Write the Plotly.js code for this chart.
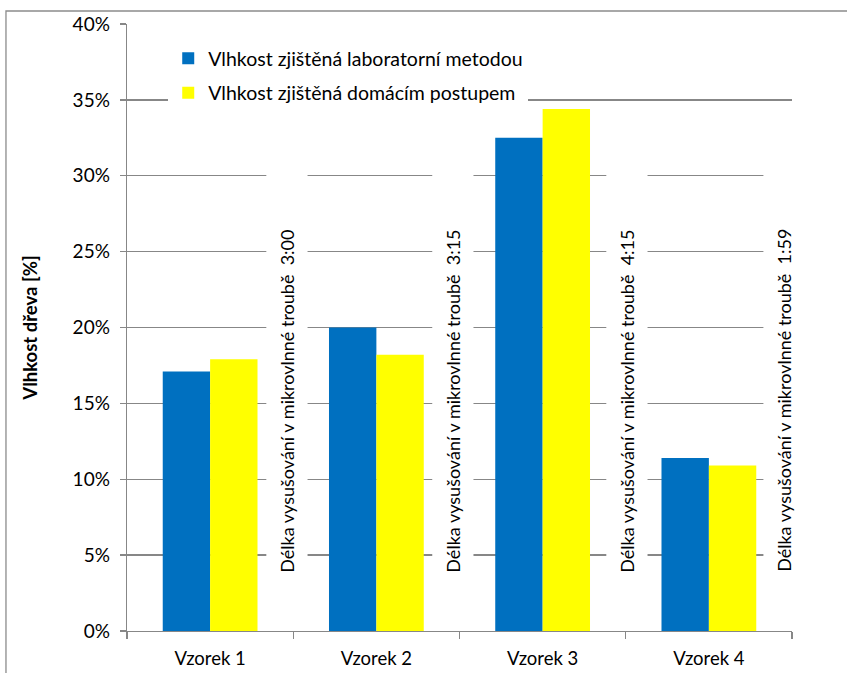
<!DOCTYPE html>
<html>
<head>
<meta charset="utf-8">
<script src="https://cdn.plot.ly/plotly-3.0.1.min.js"></script>
<style>html,body{margin:0;padding:0;background:#fff;}#chart{width:847px;height:673px;}</style>
</head>
<body>
<div id="chart"></div>
<script>
const categories = ["Vzorek 1", "Vzorek 2", "Vzorek 3", "Vzorek 4"];
const labMethod = [0.171, 0.200, 0.325, 0.114];
const homeMethod = [0.179, 0.182, 0.344, 0.109];
const seriesNames = ["Vlhkost zjištěná laboratorní metodou", "Vlhkost zjištěná domácím postupem"];
const dryingTimes = ["3:00", "3:15", "4:15", "1:59"];
const yTickVals = [0, 0.05, 0.10, 0.15, 0.20, 0.25, 0.30, 0.35, 0.40];
const yTickText = ["0%", "5%", "10%", "15%", "20%", "25%", "30%", "35%", "40%"];
const yTitle = "Vlhkost dřeva [%]";

const FONT = "Lato, 'Open Sans', sans-serif";
const GRID = "#878787";
const textOffsets = [0.462, 0.46, 0.507, 0.452];

const traces = [
  {type: "bar", x: categories, y: labMethod, name: seriesNames[0], marker: {color: "#0070C0"}, legendgroup: "a", hoverinfo: "none"},
  {type: "bar", x: categories, y: homeMethod, name: seriesNames[1], marker: {color: "#FFFF00"}, legendgroup: "b", hoverinfo: "none"}
];

const shapes = [];
const annotations = [];
dryingTimes.forEach((t, i) => {
  const cx = i + textOffsets[i];
  shapes.push({type: "rect", xref: "x", yref: "y", x0: cx - 0.124, x1: cx + 0.124, y0: 0.025, y1: 0.315,
    fillcolor: "#ffffff", line: {width: 0}, layer: "above"});
  annotations.push({xref: "x", yref: "y", x: cx, y: 0.038, yanchor: "bottom", xanchor: "center",
    text: "Délka vysušování v mikrovlnné troubě\u00a0 " + t, textangle: -90, showarrow: false,
    font: {family: FONT, size: 18, color: "#000"}, borderpad: 0});
});
// outer chart border
shapes.push({type: "rect", xref: "paper", yref: "paper", x0: -0.182, x1: 1.3, y0: -0.3, y1: 1.0214,
  line: {color: "#8c8c8c", width: 1.3}, fillcolor: "rgba(0,0,0,0)", layer: "below"});

const layout = {
  width: 847, height: 673,
  margin: {l: 127, r: 55, t: 24, b: 42},
  paper_bgcolor: "#fff", plot_bgcolor: "#fff",
  barmode: "group", bargap: 0.43, bargroupgap: 0,
  font: {family: FONT, size: 18, color: "#000"},
  xaxis: {type: "category", range: [-0.5, 3.5], autorange: false, tickson: "boundaries", ticks: "outside", ticklen: 7, tickcolor: GRID, tickwidth: 1.3,
    showline: true, linecolor: GRID, linewidth: 1.3, showgrid: false, zeroline: false,
    tickfont: {family: FONT, size: 18.5}, ticklabelstandoff: 10, fixedrange: true},
  yaxis: {range: [0, 0.40], autorange: false, tickvals: yTickVals, ticktext: yTickText, ticks: "outside", ticklen: 6, tickcolor: GRID, tickwidth: 1.3,
    showline: true, linecolor: GRID, linewidth: 1.3, showgrid: true, gridcolor: GRID, gridwidth: 1.3, zeroline: false,
    tickfont: {family: FONT, size: 19}, ticklabelstandoff: 6,
    title: {text: "<b>" + yTitle + "</b>", font: {family: FONT, size: 18.5}, standoff: 30}, fixedrange: true},
  showlegend: true,
  legend: {x: 0.062, y: 0.975, xanchor: "left", yanchor: "top", bgcolor: "#ffffff", borderwidth: 0,
    font: {family: FONT, size: 19.5}, traceorder: "grouped", tracegroupgap: 6},
  shapes: shapes,
  annotations: annotations
};

Plotly.newPlot("chart", traces, layout, {displayModeBar: false, staticPlot: true});
</script>
</body>
</html>
